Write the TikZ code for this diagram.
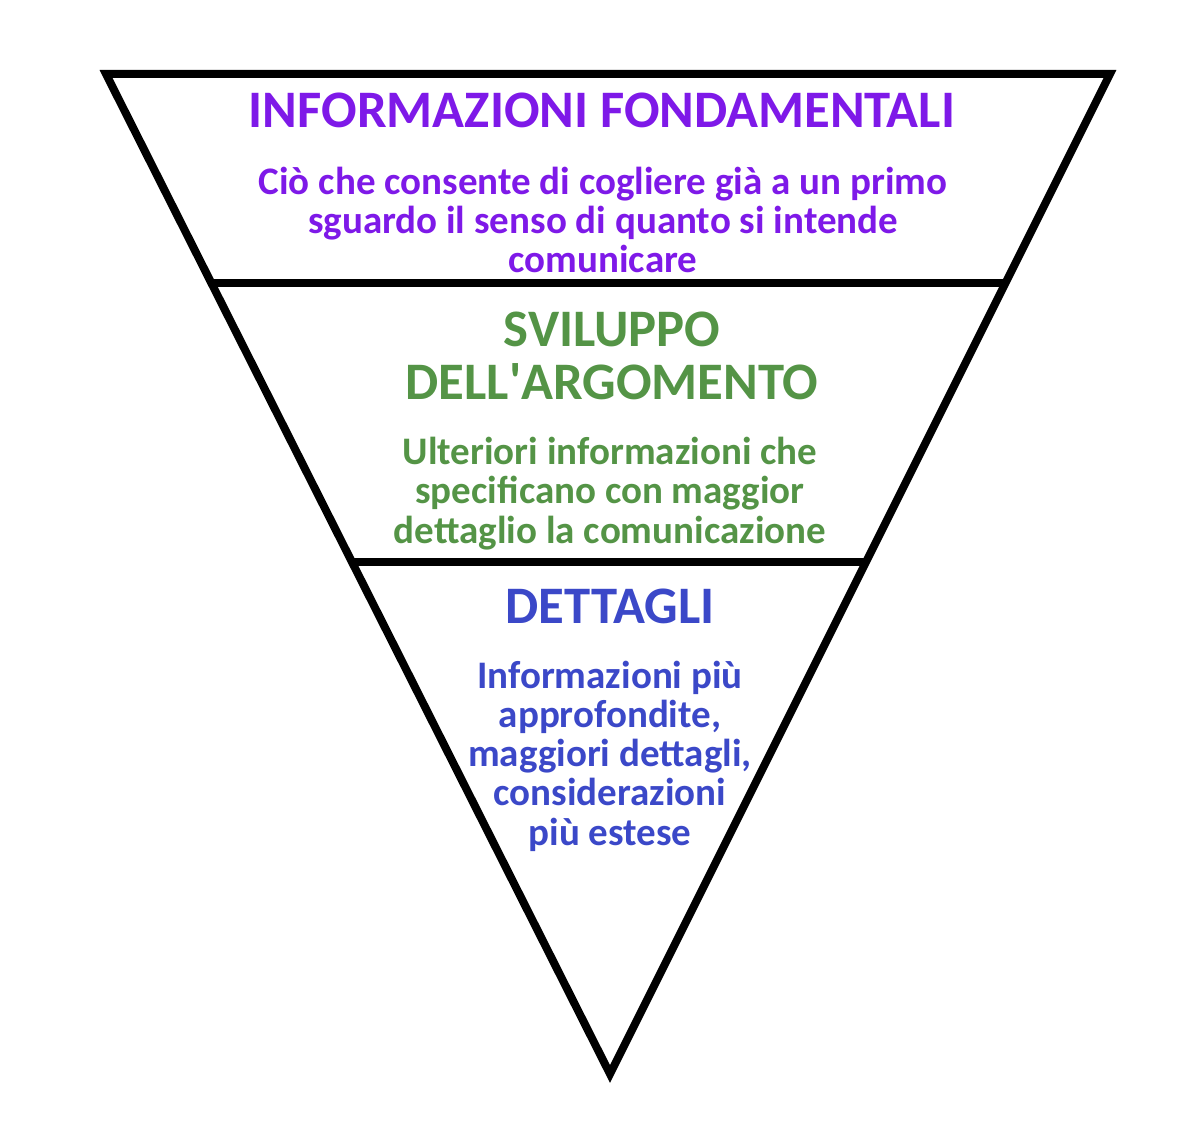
\documentclass[tikz,border=0pt]{standalone}
\usepackage{fontspec}
\setmainfont{Carlito}
\usepackage{tikz}
\usetikzlibrary{calc}
\definecolor{viola}{RGB}{126,25,232}
\definecolor{verde}{RGB}{84,148,70}
\definecolor{blu}{RGB}{59,72,200}

\begin{document}
\begin{tikzpicture}[x=1pt,y=-1pt,
		bordo/.style={line width=8pt,line join=miter},
		titolo/.style={font=\bfseries\fontsize{52.7}{53}\selectfont,align=center,inner sep=0pt,anchor=base},
		testo/.style={font=\bfseries\fontsize{39}{39.2}\selectfont,align=center,inner sep=0pt,anchor=base}]
		\useasboundingbox (0,0) rectangle (1200,1147);
		% vertici del triangolo
		\coordinate (L) at (106,74);
		\coordinate (R) at (1110,74);
		\coordinate (V) at (610,1074);
		\draw[bordo] (L) -- (R) -- (V) -- cycle;
		% separatori
		\coordinate (L1) at ($(L)!0.209!(V)$);
		\coordinate (R1) at ($(R)!0.209!(V)$);
		\coordinate (L2) at ($(L)!0.488!(V)$);
		\coordinate (R2) at ($(R)!0.488!(V)$);
		\draw[bordo] (L1) -- (R1);
		\draw[bordo] (L2) -- (R2);
		% livello 1 (base = ultima riga)
		\node[titolo,text=viola] (T1) at (602,128) {INFORMAZIONI FONDAMENTALI};
		\node[testo,text=viola] (D1) at (603,273) {Ciò che consente di cogliere già a un primo\\sguardo il senso di quanto si intende\\comunicare};
		% livello 2
		\node[titolo,text=verde] (T2) at (612,400) {SVILUPPO\\DELL\textquotesingle ARGOMENTO};
		\node[testo,text=verde] (D2) at (610,543) {Ulteriori informazioni che\\specificano con maggior\\dettaglio la comunicazione};
		% livello 3
		\node[titolo,text=blu] (T3) at (610,623) {DETTAGLI};
		\node[testo,text=blu] (D3) at (610,845) {Informazioni più\\approfondite,\\maggiori dettagli,\\considerazioni\\più estese};
	\end{tikzpicture}
\end{document}
